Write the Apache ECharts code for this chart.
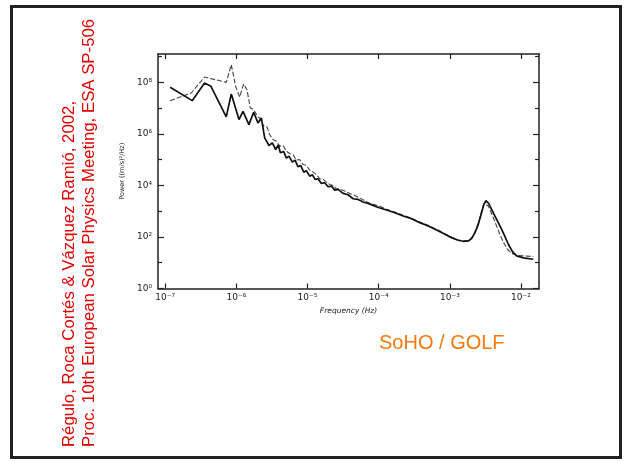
<!DOCTYPE html>
<html>
<head>
<meta charset="utf-8">
<script src="https://cdn.jsdelivr.net/npm/echarts@6/dist/echarts.min.js"></script>
<style>
html,body{margin:0;padding:0;background:#fff;}
#chart{width:624px;height:461px;}
</style>
</head>
<body>
<div id="chart"></div>
<script>
// log10 of frequency (Hz) and log10 of power ((m/s)^2/Hz)
const solidLogFreq = [-6.930,-6.620,-6.447,-6.357,-6.142,-6.071,-5.963,-5.907,-5.823,-5.757,-5.696,-5.649,-5.602,-5.541,-5.494,-5.447,-5.410,-5.382,-5.335,-5.297,-5.260,-5.213,-5.175,-5.133,-5.096,-5.053,-5.016,-4.969,-4.932,-4.894,-4.852,-4.805,-4.758,-4.711,-4.664,-4.617,-4.570,-4.500,-4.430,-4.359,-4.289,-4.219,-4.148,-4.078,-3.993,-3.890,-3.773,-3.656,-3.538,-3.421,-3.304,-3.187,-3.069,-2.976,-2.882,-2.812,-2.741,-2.694,-2.647,-2.600,-2.554,-2.521,-2.493,-2.455,-2.413,-2.366,-2.319,-2.272,-2.225,-2.178,-2.117,-2.061,-1.967,-1.827];
const solidLogPower = [7.806,7.290,7.974,7.845,6.658,7.548,6.555,6.877,6.361,6.839,6.426,6.619,5.845,5.548,5.652,5.394,5.574,5.265,5.316,5.058,5.135,4.903,4.981,4.723,4.774,4.516,4.568,4.361,4.413,4.232,4.258,4.077,4.103,3.948,3.974,3.819,3.845,3.690,3.639,3.484,3.458,3.355,3.303,3.226,3.135,3.045,2.942,2.813,2.710,2.555,2.426,2.271,2.103,1.974,1.871,1.832,1.845,1.935,2.168,2.490,2.942,3.265,3.406,3.303,3.071,2.813,2.555,2.297,2.013,1.716,1.419,1.265,1.187,1.135];
const dashedLogFreq = [-6.930,-6.634,-6.447,-6.142,-6.071,-6.010,-5.954,-5.898,-5.851,-5.804,-5.757,-5.710,-5.663,-5.616,-5.569,-5.532,-5.485,-5.438,-5.391,-5.344,-5.297,-5.251,-5.204,-5.157,-5.110,-5.063,-5.016,-4.969,-4.922,-4.875,-4.828,-4.781,-4.735,-4.688,-4.641,-4.594,-4.538,-4.477,-4.406,-4.336,-4.266,-4.195,-4.125,-4.054,-3.993,-3.890,-3.773,-3.656,-3.538,-3.421,-3.304,-3.187,-3.069,-2.976,-2.882,-2.812,-2.741,-2.694,-2.647,-2.600,-2.554,-2.521,-2.493,-2.460,-2.427,-2.389,-2.343,-2.296,-2.249,-2.192,-2.131,-2.061,-1.967,-1.827];
const dashedLogPower = [7.290,7.587,8.206,8.000,8.684,7.845,7.432,7.935,7.716,7.006,6.942,6.710,6.581,6.297,6.271,5.974,5.781,5.716,5.523,5.548,5.329,5.239,5.200,4.981,5.006,4.813,4.774,4.594,4.516,4.426,4.258,4.232,4.129,4.039,4.000,3.871,3.845,3.781,3.690,3.613,3.510,3.406,3.303,3.252,3.200,3.071,2.968,2.839,2.723,2.581,2.452,2.297,2.129,1.987,1.884,1.845,1.858,1.961,2.194,2.529,3.006,3.303,3.329,3.200,3.006,2.748,2.426,2.103,1.806,1.523,1.368,1.290,1.265,1.239];
const xTickExponents = [-7,-6,-5,-4,-3,-2];
const yTickExponents = [0,2,4,6,8];
const yMinorExponents = [1,3,5,7,9];
const xTitle = 'Frequency (Hz)';
const yTitle = 'Power ((m/s)\u00B2/Hz)';
const refLine1 = 'Régulo, Roca Cortés & Vázquez Ramió, 2002,';
const refLine2 = 'Proc. 10th European Solar Physics Meeting, ESA SP-506';
const instrumentLabel = 'SoHO / GOLF';

const SUP = {'-':'\u207B','0':'\u2070','1':'\u00B9','2':'\u00B2','3':'\u00B3','4':'\u2074','5':'\u2075','6':'\u2076','7':'\u2077','8':'\u2078','9':'\u2079'};
function pow10Label(v){
  const s = String(Math.round(v));
  return '10' + s.split('').map(c => SUP[c] || c).join('');
}
function pairs(xs, ys){ return xs.map((x,i) => [x, ys[i]]); }

const chart = echarts.init(document.getElementById('chart'), null, {renderer:'canvas'});
const axisCol = '#222';
const labelFont = {fontFamily:'DejaVu Sans', fontSize:9, color:'#222'};
const XMIN = -7.101, XMAX = -1.747, YMIN = 0, YMAX = 9.1;

function yAx(pos, ticks, len, showLine, showLabel, extra){
  return Object.assign({
    type:'value', position:pos, min:YMIN, max:YMAX, gridIndex:0,
    axisLine:{show:showLine, onZero:false, lineStyle:{color:axisCol, width:1.5}},
    axisTick:{show:true, inside:true, length:len, customValues:ticks, lineStyle:{color:axisCol, width:1.2}},
    axisLabel:{show:showLabel, customValues:ticks, margin:6, formatter:pow10Label, ...labelFont},
    splitLine:{show:false}
  }, extra || {});
}

chart.setOption({
  animation:false,
  backgroundColor:'#fff',
  grid:{left:158, top:54, width:381, height:234.5, containLabel:false},
  xAxis:[
    {type:'value', position:'bottom', min:XMIN, max:XMAX,
     axisLine:{show:true, onZero:false, lineStyle:{color:axisCol, width:1.5}},
     axisTick:{show:true, inside:true, length:5, customValues:xTickExponents, lineStyle:{color:axisCol, width:1.2}},
     axisLabel:{show:true, customValues:xTickExponents, margin:5, formatter:pow10Label, ...labelFont},
     splitLine:{show:false},
     name:xTitle, nameLocation:'middle', nameGap:17,
     nameTextStyle:{fontFamily:'DejaVu Sans', fontSize:7.5, fontStyle:'italic', color:'#222'}},
    {type:'value', position:'top', min:XMIN, max:XMAX,
     axisLine:{show:true, onZero:false, lineStyle:{color:axisCol, width:1.5}},
     axisTick:{show:true, inside:true, length:5, customValues:xTickExponents, lineStyle:{color:axisCol, width:1.2}},
     axisLabel:{show:false}, splitLine:{show:false}}
  ],
  yAxis:[
    yAx('left', yTickExponents, 6, true, true,
      {name:yTitle, nameLocation:'middle', nameGap:25, nameRotate:90,
       nameTextStyle:{fontFamily:'DejaVu Sans', fontSize:6.5, color:'#222'}}),
    yAx('right', yTickExponents, 6, true, false),
    yAx('left', yMinorExponents, 4, false, false),
    yAx('right', yMinorExponents, 4, false, false)
  ],
  series:[
    {type:'line', name:'dashed', xAxisIndex:0, yAxisIndex:0, data:pairs(dashedLogFreq, dashedLogPower),
     showSymbol:false, symbol:'none', lineStyle:{color:'#444', width:1.1, type:[5,2]}, z:2},
    {type:'line', name:'solid', xAxisIndex:0, yAxisIndex:0, data:pairs(solidLogFreq, solidLogPower),
     showSymbol:false, symbol:'none', lineStyle:{color:'#111', width:1.7}, z:3}
  ],
  graphic:[
    {type:'rect', shape:{x:11.5, y:6.5, width:609, height:451}, style:{fill:'none', stroke:'#222', lineWidth:3}, silent:true},
    {type:'text', x:69, y:447, rotation:Math.PI/2,
     style:{text:refLine1, fill:'#e00000', font:'16.8px "Liberation Sans", Arial, sans-serif', textAlign:'left', textVerticalAlign:'middle'}},
    {type:'text', x:89, y:447, rotation:Math.PI/2,
     style:{text:refLine2, fill:'#e00000', font:'16.8px "Liberation Sans", Arial, sans-serif', textAlign:'left', textVerticalAlign:'middle'}},
    {type:'text', x:379, y:343,
     style:{text:instrumentLabel, fill:'#f07a10', font:'20px "Liberation Sans", Arial, sans-serif', textAlign:'left', textVerticalAlign:'middle'}}
  ]
});
</script>
</body>
</html>
